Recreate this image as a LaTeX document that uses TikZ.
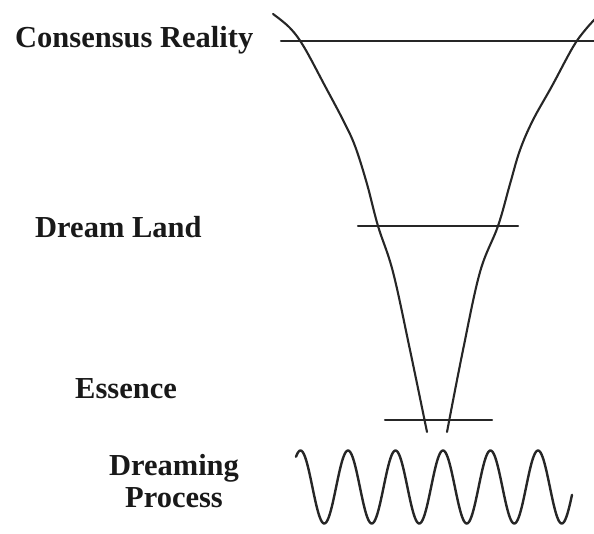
\documentclass[tikz,border=0pt]{standalone}
\usepackage{fontspec}
\setmainfont{Liberation Serif}
\begin{document}
\begin{tikzpicture}[x=1pt,y=-1pt,
  lbl/.style={font=\fontsize{30.5}{32}\selectfont\bfseries, inner sep=0pt, text=black!90},
  ln/.style={line width=2.1pt, black!85, line cap=round},
  wv/.style={line width=2.4pt, black!85, line cap=round}]
\useasboundingbox (0,0) rectangle (594,534);
\clip (0,0) rectangle (594,534);
% labels
\node[lbl, anchor=base west] (cr) at (15,48) {Consensus Reality};
\node[lbl, anchor=base west] (dl) at (35,238) {Dream Land};
\node[lbl, anchor=base west] (es) at (75,398) {Essence};
\node[lbl, anchor=base] (dp1) at (174,475) {Dreaming};
\node[lbl, anchor=base] (dp2) at (174,507) {Process};
% level lines
\draw[ln] (281,41) -- (600,41);
\draw[ln] (358,226) -- (518,226);
\draw[ln] (385,420) -- (492,420);
% funnel
\draw[ln] plot[smooth, tension=0.6] coordinates {(273,14) (290,28) (304,47) (325,86) (343,120) (355,146) (367,184) (378,226) (393,272) (410,350) (427,432)};
\draw[ln] plot[smooth, tension=0.6] coordinates {(598,16) (586,29) (573,47) (552,86) (533,120) (520,150) (510,184) (498,226) (480,272) (463,350) (447,432)};
% dreaming wave
\draw[wv] plot[domain=296:572, samples=300, smooth] (\x, {487 - 36.5*cos(7.578947*(\x-300.5))});
\end{tikzpicture}
\end{document}
